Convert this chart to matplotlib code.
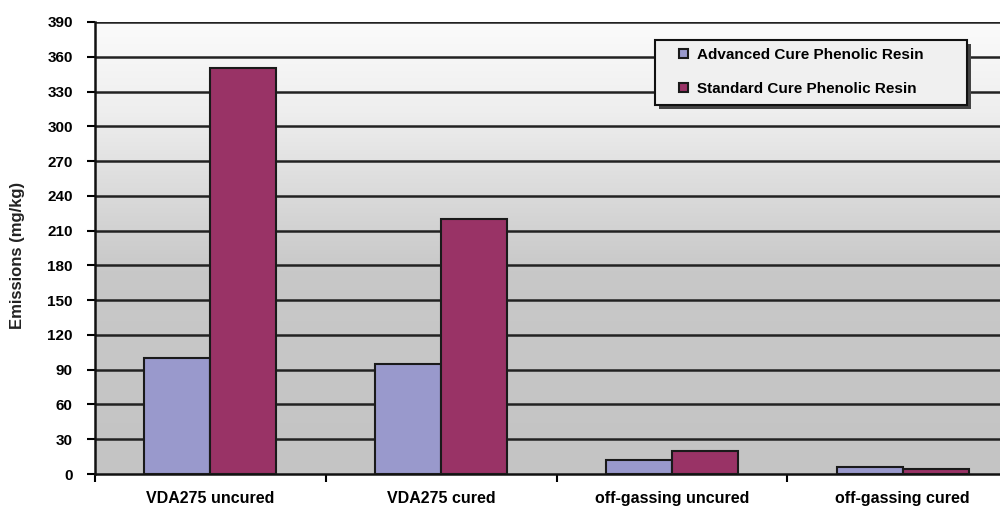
import numpy as np
import matplotlib.pyplot as plt
from matplotlib.colors import LinearSegmentedColormap
from matplotlib.patches import Rectangle

categories = ['VDA275 uncured', 'VDA275 cured', 'off-gassing uncured', 'off-gassing cured']
advanced = [100, 95, 12, 6]
standard = [350, 220, 20, 4]
series_names = ['Advanced Cure Phenolic Resin', 'Standard Cure Phenolic Resin']
yticks = list(range(0, 391, 30))

plt.rcParams['font.family'] = ['Liberation Sans', 'DejaVu Sans']
plt.rcParams['font.weight'] = 'bold'

fig = plt.figure(figsize=(10, 5.08), dpi=100)
W, H = 1000, 508
# plot area runs slightly past the right edge of the figure
ax = fig.add_axes([95 / W, 1 - 474 / H, 923 / W, (474 - 22) / H])

# white-to-grey backdrop
grad = np.linspace(0, 1, 256).reshape(-1, 1)
cmap = LinearSegmentedColormap.from_list('bg', [(0, '#c4c4c4'), (0.45, '#c8c8c8'), (0.8, '#eeeeee'), (1, '#fbfbfb')])
ax.imshow(grad, cmap=cmap, aspect='auto', origin='lower',
          extent=[-0.5, 3.5, 0, 390], zorder=0)

x = np.arange(len(categories))
w = 0.286
ax.bar(x - w / 2, advanced, w, color='#9999cc', edgecolor='#1a1a1a', linewidth=1.5,
       label=series_names[0], zorder=3)
ax.bar(x + w / 2, standard, w, color='#993366', edgecolor='#1a1a1a', linewidth=1.5,
       label=series_names[1], zorder=3)

for y in yticks[1:]:
    ax.axhline(y, color='#222222', linewidth=1.8, zorder=2)

ax.set_xlim(-0.5, 3.5)
ax.set_ylim(0, 390)
ax.set_yticks(yticks)
ax.set_xticks(x)
ax.set_xticklabels(categories, fontsize=11.5, fontweight='bold')
ax.tick_params(axis='x', length=0, pad=12)
ax.set_xticks(np.arange(-0.5, 3.6, 1), minor=True)
ax.tick_params(axis='x', which='minor', length=6, width=1.5, direction='out')
ax.tick_params(axis='y', length=6, width=1.5, direction='out', labelsize=11, pad=10)
for lab in ax.get_yticklabels():
    lab.set_fontweight('bold')

for s in ['top', 'right']:
    ax.spines[s].set_visible(False)
for s in ['left', 'bottom']:
    ax.spines[s].set_linewidth(1.8)
    ax.spines[s].set_color('#111111')

fig.text(18 / W, 1 - 255 / H, 'Emissions (mg/kg)', rotation=90, ha='center', va='center',
         fontsize=12, fontweight='bold', color='#222222')

# legend box with drop shadow, placed in figure pixels
lx0, lx1, ly0, ly1 = 655, 967, 40, 105
shadow = Rectangle(((lx0 + 4) / W, 1 - (ly1 + 4) / H), (lx1 - lx0) / W, (ly1 - ly0) / H,
                   transform=fig.transFigure, facecolor='#444444', edgecolor='none', zorder=4)
frame = Rectangle((lx0 / W, 1 - ly1 / H), (lx1 - lx0) / W, (ly1 - ly0) / H,
                  transform=fig.transFigure, facecolor='#f0f0f0', edgecolor='#111111',
                  linewidth=1.5, zorder=4)
fig.patches.extend([shadow, frame])

leg = fig.legend(loc='upper left', bbox_to_anchor=(679 / W, 1 - 48 / H),
                 frameon=False, fontsize=11,
                 handlelength=0.6, handleheight=0.6, handletextpad=0.55,
                 labelspacing=1.3, borderpad=0, borderaxespad=0)
leg.set_zorder(6)
for t in leg.get_texts():
    t.set_fontweight('bold')

fig.savefig('out.png', dpi=100)
